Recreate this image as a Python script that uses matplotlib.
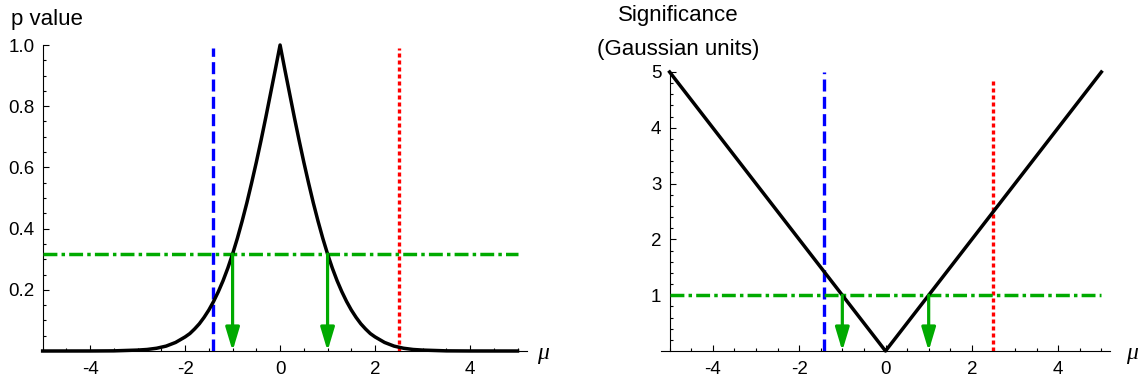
import numpy as np
import matplotlib
matplotlib.use("Agg")
import matplotlib.pyplot as plt

# ---- data ----
mu_half = [0.0, 0.1, 0.2, 0.3, 0.4, 0.5, 0.6, 0.7, 0.8, 0.9, 1.0, 1.1, 1.2, 1.3,
           1.4, 1.5, 1.6, 1.7, 1.8, 1.9, 2.0, 2.2, 2.4, 2.6, 2.8, 3.0, 3.5, 4.0, 5.0]
p_half = [1.0, 0.920, 0.842, 0.764, 0.689, 0.617, 0.549, 0.484, 0.424, 0.368,
          0.317, 0.271, 0.230, 0.194, 0.162, 0.134, 0.110, 0.089, 0.072, 0.057,
          0.046, 0.028, 0.016, 0.009, 0.005, 0.003, 0.0005, 0.0001, 0.0]
sig_mu = [-5, 0, 5]
sig_val = [5, 0, 5]
mu_blue = -1.42
mu_red = 2.5
mu_arrows = [-1, 1]
p_level = 0.317
sig_level = 1.0
x_ticks = [-4, -2, 0, 2, 4]
x_ticklabels = ["-4", "-2", "0", "2", "4"]
p_ticks = [0.2, 0.4, 0.6, 0.8, 1.0]
p_ticklabels = ["0.2", "0.4", "0.6", "0.8", "1.0"]
s_ticks = [1, 2, 3, 4, 5]
s_ticklabels = ["1", "2", "3", "4", "5"]

mu_full = [-m for m in mu_half[::-1]] + mu_half[1:]
p_full = p_half[::-1] + p_half[1:]

plt.rcParams['font.family'] = ['Liberation Sans', 'DejaVu Sans']

W, H = 1139, 381
fig = plt.figure(figsize=(W / 100, H / 100), dpi=100)

GREEN = '#00aa00'
BLUE = '#0000ff'
RED = '#ff0000'
FS = 13.5
LFS = 16


def style_axes(ax, xlo, xhi, ylo, yhi, yticks, yticklabels, yminor):
    ax.set_xlim(xlo, xhi)
    ax.set_ylim(ylo, yhi)
    for s in ['top', 'right']:
        ax.spines[s].set_visible(False)
    ax.spines['left'].set_position(('data', -5))
    ax.spines['left'].set_bounds(ylo, yhi)
    for s in ['left', 'bottom']:
        ax.spines[s].set_linewidth(0.8)
        ax.spines[s].set_zorder(1)
    ax.set_xticks(x_ticks)
    ax.set_xticklabels(x_ticklabels)
    ax.set_xticks(np.arange(-5, 5.01, 0.5), minor=True)
    ax.set_yticks(yticks)
    ax.set_yticklabels(yticklabels)
    ax.set_yticks(yminor, minor=True)
    ax.tick_params(axis='both', which='major', direction='in', length=4.5,
                   width=0.8, labelsize=FS)
    ax.tick_params(axis='both', which='minor', direction='in', length=2.5,
                   width=0.8)
    ax.tick_params(axis='x', which='major', pad=7)
    ax.tick_params(axis='y', which='major', pad=6)
    ax.patch.set_visible(False)


def draw_arrow(ax, x, ytop):
    ax.annotate('', xy=(x, 0), xytext=(x, ytop),
                arrowprops=dict(arrowstyle='-|>,head_length=1.4,head_width=0.42',
                                mutation_scale=10, color=GREEN, lw=2.3,
                                shrinkA=0, shrinkB=0), zorder=4)


green_ls = (0, (4.0, 1.2, 1.0, 1.2))
blue_ls = (0, (3.6, 1.6))
red_ls = (0, (1.2, 0.9))

# ---- left panel ----
ax1 = fig.add_axes([41.7 / W, 30 / H, (527 - 41.7) / W, 306 / H])
style_axes(ax1, -5.02, 5.2, 0, 1.0, p_ticks, p_ticklabels,
           np.arange(0.05, 1.0, 0.05))
ax1.plot(mu_full, p_full, color='black', lw=2.5, zorder=3, clip_on=False)
ax1.plot([mu_blue, mu_blue], [0, 0.99], color=BLUE, lw=2.4, ls=blue_ls, zorder=2)
ax1.plot([mu_red, mu_red], [0, 0.99], color=RED, lw=2.4, ls=red_ls, zorder=2)
ax1.plot([-5, 5], [p_level, p_level], color=GREEN, lw=2.5, ls=green_ls, zorder=2)
for m in mu_arrows:
    draw_arrow(ax1, m, p_level)
fig.text(11 / W, 1 - 19 / H, 'p value', fontsize=LFS, ha='left', va='center')
fig.text(543 / W, 1 - 354 / H, '\u03bc', fontsize=17, ha='center', va='center',
         family='Liberation Serif', style='italic')

# ---- right panel ----
ax2 = fig.add_axes([661 / W, 30 / H, (1110 - 661) / W, 279 / H])
style_axes(ax2, -5.2, 5.2, 0, 5, s_ticks, s_ticklabels,
           np.arange(0.2, 5.0, 0.2))
ax2.plot(sig_mu, sig_val, color='black', lw=2.5, zorder=3, clip_on=False)
ax2.plot([mu_blue, mu_blue], [0, 5.0], color=BLUE, lw=2.4, ls=blue_ls, zorder=2)
ax2.plot([mu_red, mu_red], [0, 4.9], color=RED, lw=2.4, ls=red_ls, zorder=2)
ax2.plot([-5, 5], [sig_level, sig_level], color=GREEN, lw=2.5, ls=green_ls, zorder=2)
for m in mu_arrows:
    draw_arrow(ax2, m, sig_level)
fig.text(678 / W, 1 - 16 / H, 'Significance', fontsize=LFS, ha='center', va='center')
fig.text(678 / W, 1 - 49 / H, '(Gaussian units)', fontsize=LFS, ha='center', va='center')
fig.text(1132 / W, 1 - 354 / H, '\u03bc', fontsize=17, ha='center', va='center',
         family='Liberation Serif', style='italic')

fig.savefig('out.png', dpi=100)
